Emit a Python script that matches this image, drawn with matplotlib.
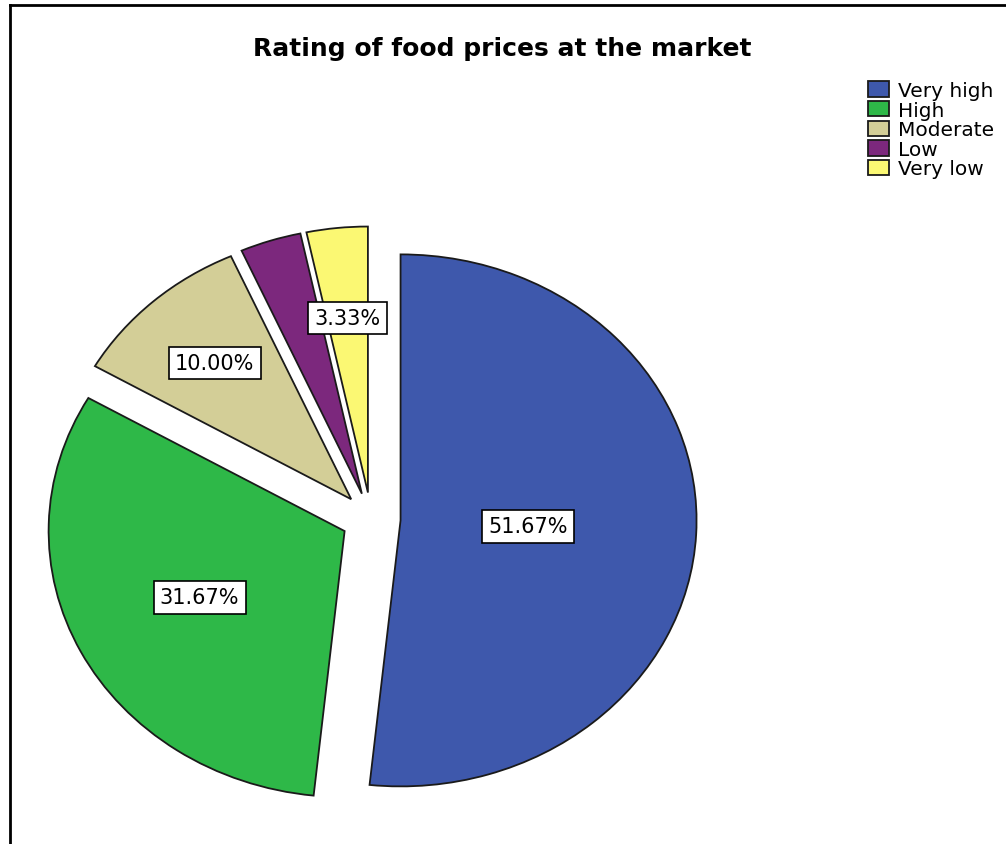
import matplotlib
matplotlib.use('Agg')
import matplotlib.pyplot as plt
from matplotlib.lines import Line2D
import numpy as np

# rating categories and their share of answers (%)
categories = ['Very high', 'High', 'Moderate', 'Low', 'Very low']
percents = [51.67, 31.67, 10.00, 3.33, 3.33]
colors = ['#3E58AC', '#2EB848', '#D3CE97', '#7C287D', '#FBF873']
show_label = [True, True, True, False, True]   # the "Low" label is hidden under "Very low"
label_radius = [0.43, 0.55, 0.69, 0.66, 0.66]

W, H = 1006, 845
cx, cy = 371, 520      # pie centre, pixels from top-left
rx, ry = 296, 266      # pixels per unit radius (pie is drawn slightly wide)

fig = plt.figure(figsize=(W / 100, H / 100), dpi=100)
ax = fig.add_axes([0, 0, 1, 1])

wedges, _ = ax.pie(percents, colors=colors, startangle=90, counterclock=False,
                   explode=[0.1] * len(percents),
                   wedgeprops=dict(edgecolor='#1a1a1a', linewidth=1.3))
ax.set_aspect('auto')
ax.set_xlim(-cx / rx, (W - cx) / rx)
ax.set_ylim(-(H - cy) / ry, cy / ry)
ax.axis('off')

# boxed percentage labels inside the slices
for w, v, show, r in zip(wedges, percents, show_label, label_radius):
    if not show:
        continue
    mid = np.deg2rad((w.theta1 + w.theta2) / 2)
    x = w.center[0] + r * np.cos(mid)
    y = w.center[1] + r * np.sin(mid)
    ax.text(x, y, f'{v:.2f}%', ha='center', va='center', fontsize=15,
            bbox=dict(boxstyle='square,pad=0.3', fc='white', ec='black', lw=1.2))

fig.text(502 / W, 1 - 49 / H, 'Rating of food prices at the market',
         ha='center', va='center', fontsize=18, fontweight='bold')

fig.legend(wedges, categories, loc='upper left',
           bbox_to_anchor=(868 / W, 1 - 82 / H), frameon=False, fontsize=14.5,
           handlelength=1.05, handleheight=0.8, handletextpad=0.45,
           labelspacing=0.03, borderpad=0, borderaxespad=0)

# frame lines on the left and top
fig.add_artist(Line2D([9.7 / W, 9.7 / W], [0, 1 - 6.3 / H], color='black', lw=2))
fig.add_artist(Line2D([9.7 / W, 1], [1 - 6.3 / H, 1 - 6.3 / H], color='black', lw=2))

fig.savefig('out.png', dpi=100)
